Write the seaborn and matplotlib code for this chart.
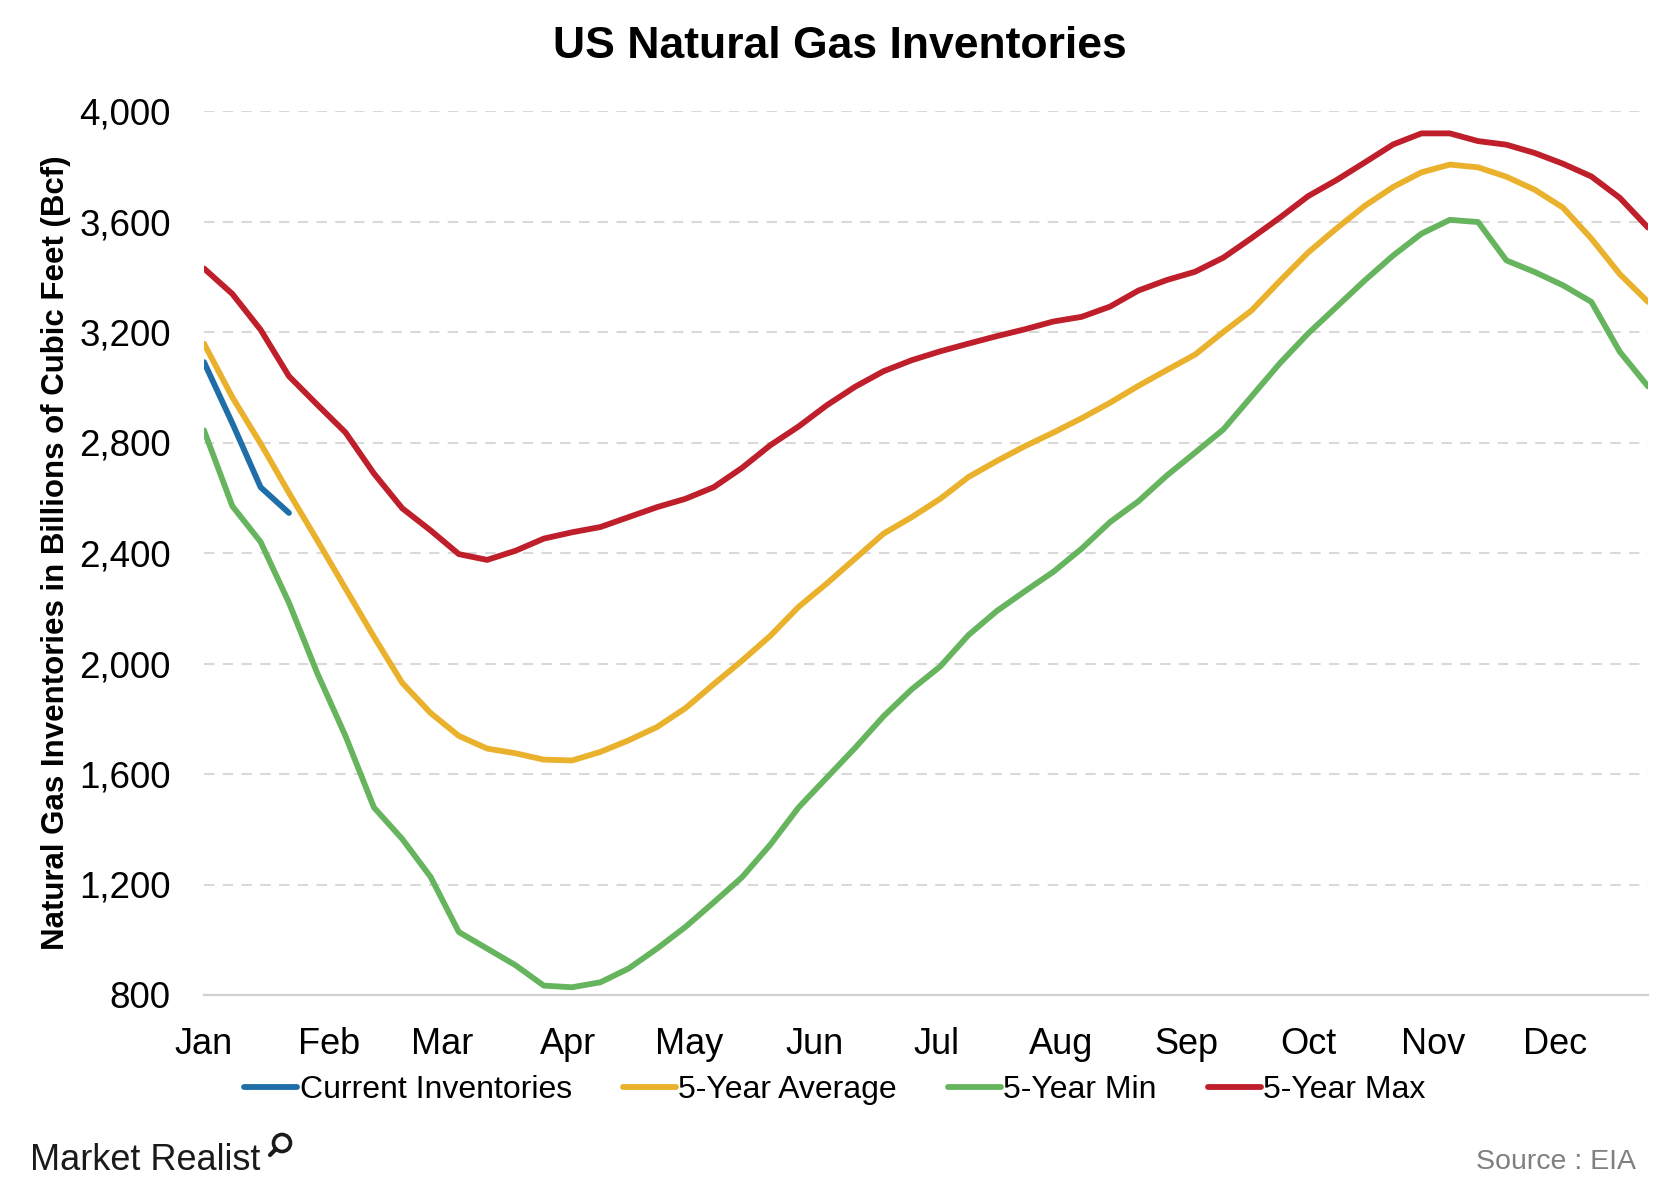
import numpy as np
import pandas as pd
import matplotlib
matplotlib.use("Agg")
import matplotlib.pyplot as plt
import matplotlib.dates as mdates
from matplotlib.ticker import FuncFormatter
from matplotlib.patches import Circle
from matplotlib.lines import Line2D
import seaborn as sns

# ---------------- data (weekly, Bcf) ----------------
series_names = ["Current Inventories", "5-Year Average", "5-Year Min", "5-Year Max"]
month_labels = ["Jan", "Feb", "Mar", "Apr", "May", "Jun",
                "Jul", "Aug", "Sep", "Oct", "Nov", "Dec"]

current_inv = [3091, 2870, 2638, 2545]

avg_5yr = [3158, 2964, 2796, 2618, 2446, 2271, 2097, 1930, 1821, 1738,
           1692, 1675, 1652, 1649, 1680, 1722, 1770, 1838, 1925, 2010,
           2100, 2205, 2290, 2380, 2470, 2530, 2596, 2675, 2733, 2787,
           2836, 2888, 2944, 3005, 3062, 3118, 3200, 3278, 3385, 3488,
           3575, 3657, 3725, 3778, 3806, 3796, 3762, 3715, 3650, 3538,
           3410, 3309]

min_5yr = [2844, 2570, 2440, 2220, 1965, 1737, 1479, 1365, 1228, 1028,
           968, 908, 834, 828, 846, 896, 968, 1046, 1135, 1226,
           1344, 1479, 1587, 1695, 1809, 1907, 1989, 2103, 2190, 2262,
           2332, 2416, 2512, 2587, 2680, 2763, 2847, 2967, 3087, 3195,
           3291, 3387, 3477, 3556, 3606, 3598, 3459, 3417, 3369, 3309,
           3129, 3003]

max_5yr = [3430, 3338, 3208, 3040, 2937, 2836, 2688, 2562, 2482, 2396,
           2375, 2408, 2452, 2475, 2494, 2530, 2566, 2596, 2638, 2708,
           2790, 2858, 2935, 3002, 3058, 3098, 3130, 3158, 3185, 3210,
           3238, 3255, 3292, 3350, 3388, 3418, 3469, 3540, 3614, 3692,
           3750, 3814, 3879, 3919, 3919, 3891, 3878, 3848, 3809, 3763,
           3686, 3578]

y_ticks = [800, 1200, 1600, 2000, 2400, 2800, 3200, 3600, 4000]

weeks = pd.date_range("2015-01-01", periods=len(avg_5yr), freq="7D")

colors = {"Current Inventories": "#1f6ea8",
          "5-Year Average": "#e9b12c",
          "5-Year Min": "#66b55e",
          "5-Year Max": "#bf1f2a"}

frames = []
for name, vals in zip(series_names, [current_inv, avg_5yr, min_5yr, max_5yr]):
    frames.append(pd.DataFrame({"date": weeks[:len(vals)], "value": vals, "series": name}))
df = pd.concat(frames, ignore_index=True)

# ---------------- figure ----------------
sns.set_theme(style="white")
plt.rcParams["font.family"] = ["Liberation Sans", "DejaVu Sans"]
plt.rcParams["text.color"] = "black"
plt.rcParams["axes.labelcolor"] = "black"

fig = plt.figure(figsize=(16.8, 12), dpi=100)
ax = fig.add_axes([204 / 1680, 1 - 995 / 1200, (1648 - 204) / 1680, (995 - 111) / 1200])

# draw order: max, min, average, current (current on top)
for name in ["5-Year Max", "5-Year Min", "5-Year Average", "Current Inventories"]:
    sub = df[df["series"] == name]
    sns.lineplot(data=sub, x="date", y="value", ax=ax, color=colors[name],
                 linewidth=4.2, label=name, solid_capstyle="round",
                 solid_joinstyle="round")

ax.set_ylim(800, 4000)
ax.set_xlim(weeks[0], weeks[-1])
ax.set_yticks(y_ticks)
ax.yaxis.set_major_formatter(FuncFormatter(lambda v, p: f"{int(v):,}"))

ax.xaxis.set_major_locator(mdates.MonthLocator())
ax.xaxis.set_major_formatter(mdates.DateFormatter("%b"))

ax.grid(axis="y", color="#d9d9d9", linestyle=(0, (5, 4)), linewidth=1.5)
ax.grid(axis="x", visible=False)
ax.set_axisbelow(True)

for s in ["top", "right", "left"]:
    ax.spines[s].set_visible(False)
ax.spines["bottom"].set_color("#d0d0d0")
ax.spines["bottom"].set_linewidth(1.6)

ax.tick_params(axis="x", which="major", direction="out", length=10, width=1.5,
               color="#d0d0d0", labelsize=26, pad=13, labelcolor="black")
ax.tick_params(axis="y", length=0, labelsize=26.5, pad=24, labelcolor="black")

ax.set_xlabel("")
ax.set_ylabel("Natural Gas Inventories in Billions of Cubic Feet (Bcf)",
              fontsize=22.5, fontweight="bold", color="black")
ax.yaxis.set_label_coords(-0.092, 0.5)

if ax.get_legend():
    ax.get_legend().remove()
handles, labels = ax.get_legend_handles_labels()
order = [labels.index(n) for n in series_names]
fig.legend([handles[i] for i in order], [labels[i] for i in order],
           loc="center", bbox_to_anchor=(0.497, 1 - 1090 / 1200), ncol=4,
           frameon=False, fontsize=23, handlelength=1.65, handletextpad=0.08,
           columnspacing=1.6, labelcolor="black")

fig.text(0.5, 1 - 47 / 1200, "US Natural Gas Inventories", ha="center", va="center",
         fontsize=32, fontweight="bold", color="black")

fig.text(30 / 1680, 1 - 1160 / 1200, "Market Realist", ha="left", va="center",
         fontsize=26, color="#1a1a1a")
# small magnifier glyph of the logo
fig.add_artist(Circle((2.82, 0.57), 0.085, transform=fig.dpi_scale_trans,
                      fill=False, lw=2.6, color="#1a1a1a"))
fig.add_artist(Line2D([2.76, 2.70], [0.51, 0.45], transform=fig.dpi_scale_trans,
                      lw=3, color="#1a1a1a", solid_capstyle="round"))
fig.text(1636 / 1680, 1 - 1162 / 1200, "Source : EIA", ha="right", va="center",
         fontsize=20.5, color="#808080")

fig.savefig("out.png", dpi=100)
